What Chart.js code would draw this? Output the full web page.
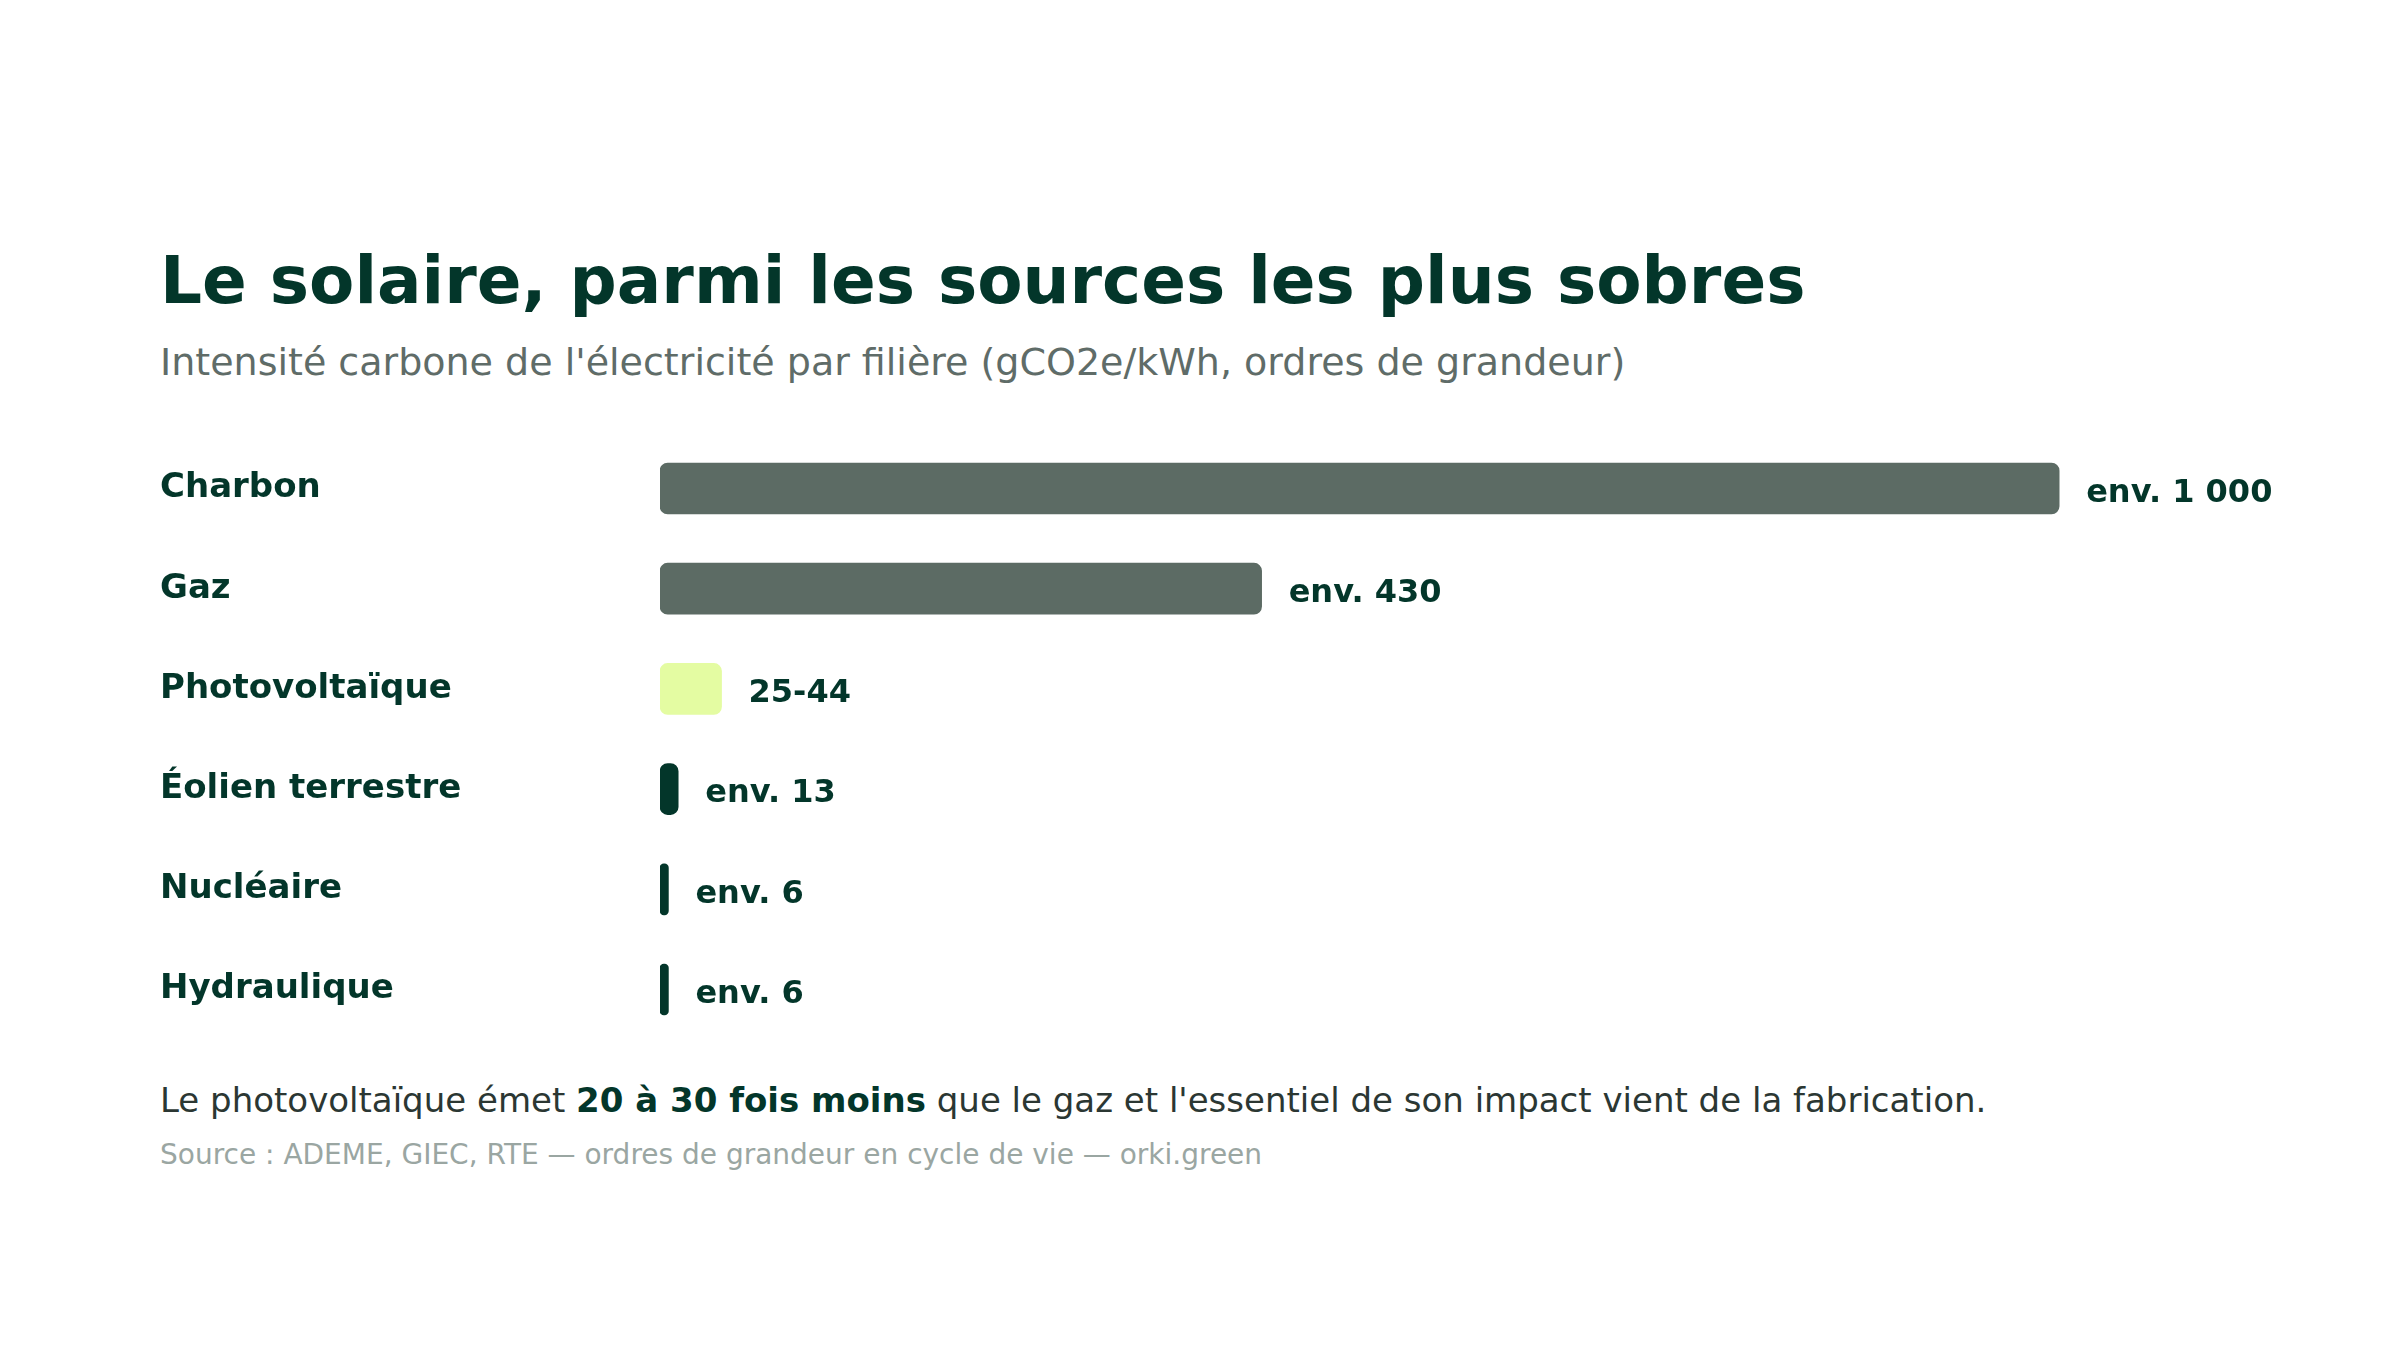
<!DOCTYPE html>
<html lang="fr">
<head>
<meta charset="utf-8">
<script src="https://cdn.jsdelivr.net/npm/chart.js@4"></script>
<style>
  html, body { margin: 0; padding: 0; background: #ffffff; }
  body { width: 2400px; height: 1350px; position: relative; overflow: hidden; font-family: "DejaVu Sans", sans-serif; }
  .txt { position: absolute; left: 160px; line-height: 1; white-space: nowrap; }
  #title { top: 248px; font-size: 66px; font-weight: bold; color: #03362a; }
  #subtitle { top: 343px; font-size: 38px; color: #5f6c68; }
  #note { top: 1083px; font-size: 34px; color: #2b3733; }
  #note b { color: #03362a; }
  #source { top: 1141px; font-size: 28px; color: #9aa6a2; }
  #wrap { position: absolute; left: 160px; top: 418px; }
</style>
</head>
<body>
<div class="txt" id="title">Le solaire, parmi les sources les plus sobres</div>
<div class="txt" id="subtitle">Intensité carbone de l'électricité par filière (gCO2e/kWh, ordres de grandeur)</div>
<div id="wrap"><canvas id="chart" width="2179" height="642"></canvas></div>
<div class="txt" id="note">Le photovoltaïque émet <b>20 à 30 fois moins</b> que le gaz et l'essentiel de son impact vient de la fabrication.</div>
<div class="txt" id="source">Source : ADEME, GIEC, RTE — ordres de grandeur en cycle de vie — orki.green</div>

<script>
// --- data ---
const categories = ['Charbon', 'Gaz', 'Photovoltaïque', 'Éolien terrestre', 'Nucléaire', 'Hydraulique'];
const intensity = [1000, 430, 44, 13, 6, 6];   // gCO2e/kWh
const valueLabels = ['env. 1 000', 'env. 430', '25-44', 'env. 13', 'env. 6', 'env. 6'];

// colours: fossil = grey, solar = highlight, rest = dark green
const barColors = ['#5c6b64', '#5c6b64', '#e4fca2', '#03362a', '#03362a', '#03362a'];

// write the value next to the end of each bar
const valueLabelPlugin = {
  id: 'valueLabels',
  afterDatasetsDraw(chart) {
    const ctx = chart.ctx;
    const meta = chart.getDatasetMeta(0);
    ctx.save();
    ctx.font = 'bold 32px "DejaVu Sans"';
    ctx.fillStyle = '#03362a';
    ctx.textAlign = 'left';
    ctx.textBaseline = 'middle';
    meta.data.forEach((bar, i) => {
      ctx.fillText(valueLabels[i], bar.x + 27, bar.y + 5);
    });
    ctx.restore();
  }
};

new Chart(document.getElementById('chart'), {
  type: 'bar',
  data: {
    labels: categories,
    datasets: [{
      data: intensity,
      backgroundColor: barColors,
      borderRadius: 8,
      borderSkipped: false,
      barThickness: 51
    }]
  },
  options: {
    indexAxis: 'y',
    responsive: false,
    devicePixelRatio: 1,
    animation: false,
    layout: { padding: 0 },
    plugins: {
      legend: { display: false },
      tooltip: { enabled: false }
    },
    scales: {
      x: {
        display: false,
        min: 0,
        max: 1200
      },
      y: {
        grid: { display: false },
        border: { display: false },
        ticks: {
          crossAlign: 'far',
          padding: 0,
          color: '#03362a',
          font: { family: 'DejaVu Sans', size: 34, weight: 'bold' }
        },
        afterFit(scale) { scale.width = 500; }
      }
    }
  },
  plugins: [valueLabelPlugin]
});
</script>
</body>
</html>
